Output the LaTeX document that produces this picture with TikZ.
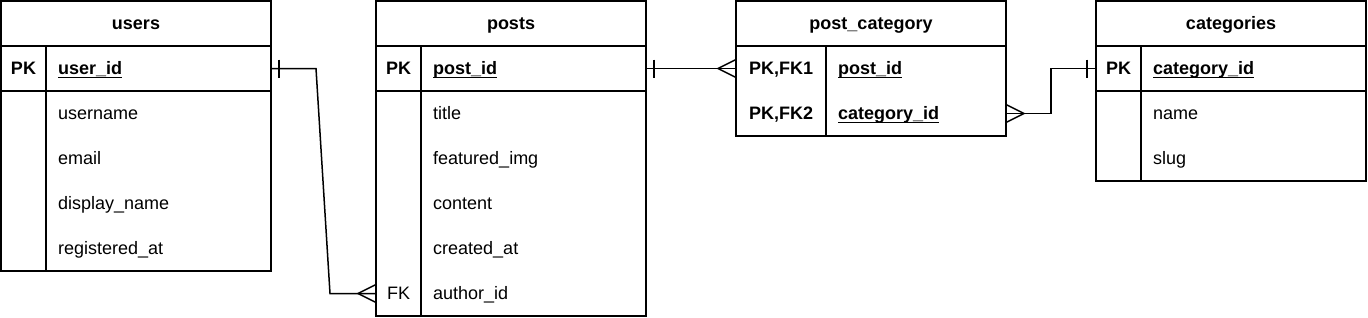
\documentclass[tikz,border=0pt]{standalone}
\usepackage{fontspec}
\setmainfont{Liberation Sans}
\usetikzlibrary{positioning, calc}
\newcommand{\tblfont}{\fontsize{18pt}{21pt}\selectfont}
\newsavebox{\keybox}
\newcommand{\keyname}[1]{\sbox{\keybox}{#1}\usebox{\keybox}\llap{\rule[-3.8pt]{\wd\keybox}{1.6pt}}}
\tikzset{
  tbl/.style={rectangle, draw, line width=1.5pt, minimum width=270pt,
              inner sep=0pt, outer sep=0pt},
  tblhead/.style={tbl, minimum height=45pt, text height=16pt, text depth=4pt,
                  font=\tblfont\bfseries},
  tblpart/.style={tbl, minimum height=#1},
  cell/.style={inner sep=0pt, text height=16pt, text depth=4pt, font=\tblfont},
  keycell/.style={cell, font=\tblfont\bfseries},
  fkcell/.style={cell},
  fieldcell/.style={cell, anchor=west},
  keyfield/.style={fieldcell, font=\tblfont\bfseries},
  rel/.style={line width=1.5pt},
  onebar/.pic={\draw[rel] (0,-9) -- (0,9);},
  crowfoot/.pic={\draw[rel] (0,-9) -- (-18,0) -- (0,9);},
}
\begin{document}
\begin{tikzpicture}[x=1pt, y=-1pt]
  \useasboundingbox (0,0) rectangle (1368,317);

  % users
  \node[tblhead, anchor=north west] (users) at (1,1) {users};
  \node[tblpart=45pt, below=0pt of users] (users-pk) {};
  \node[tblpart=180pt, below=0pt of users-pk] (users-body) {};
  \draw[rel] ([xshift=45pt]users-pk.north west) -- ([xshift=45pt]users-body.south west);
  \node[keycell] (users-k1) at ([xshift=22.5pt]users-pk.west) {PK};
  \node[keyfield] (users-f1) at ([xshift=57pt]users-pk.west) {\keyname{user\_id}};
  \foreach \f [count=\i from 2] in {username, email, display\_name, registered\_at}
    \node[fieldcell] (users-f\i) at ($(users-body.north west)+(57,45*\i-67.5)$) {\f};

  % posts
  \node[tblhead, anchor=north west] (posts) at (376,1) {posts};
  \node[tblpart=45pt, below=0pt of posts] (posts-pk) {};
  \node[tblpart=225pt, below=0pt of posts-pk] (posts-body) {};
  \draw[rel] ([xshift=45pt]posts-pk.north west) -- ([xshift=45pt]posts-body.south west);
  \node[keycell] (posts-k1) at ([xshift=22.5pt]posts-pk.west) {PK};
  \node[keyfield] (posts-f1) at ([xshift=57pt]posts-pk.west) {\keyname{post\_id}};
  \foreach \f [count=\i from 2] in {title, featured\_img, content, created\_at, author\_id}
    \node[fieldcell] (posts-f\i) at ($(posts-body.north west)+(57,45*\i-67.5)$) {\f};
  \node[fkcell] (posts-k6) at ($(posts-body.north west)+(22.5,202.5)$) {FK};

  % post_category
  \node[tblhead, anchor=north west] (pc) at (736,1) {post\_category};
  \node[tblpart=90pt, below=0pt of pc] (pc-pk) {};
  \draw[rel] ([xshift=90pt]pc-pk.north west) -- ([xshift=90pt]pc-pk.south west);
  \node[keycell] (pc-k1) at ($(pc-pk.north west)+(45,22.5)$) {PK,FK1};
  \node[keycell] (pc-k2) at ($(pc-pk.north west)+(45,67.5)$) {PK,FK2};
  \node[keyfield] (pc-f1) at ($(pc-pk.north west)+(102,22.5)$) {\keyname{post\_id}};
  \node[keyfield] (pc-f2) at ($(pc-pk.north west)+(102,67.5)$) {\keyname{category\_id}};

  % categories
  \node[tblhead, anchor=north west] (cats) at (1096,1) {categories};
  \node[tblpart=45pt, below=0pt of cats] (cats-pk) {};
  \node[tblpart=90pt, below=0pt of cats-pk] (cats-body) {};
  \draw[rel] ([xshift=45pt]cats-pk.north west) -- ([xshift=45pt]cats-body.south west);
  \node[keycell] (cats-k1) at ([xshift=22.5pt]cats-pk.west) {PK};
  \node[keyfield] (cats-f1) at ([xshift=57pt]cats-pk.west) {\keyname{category\_id}};
  \foreach \f [count=\i from 2] in {name, slug}
    \node[fieldcell] (cats-f\i) at ($(cats-body.north west)+(57,45*\i-67.5)$) {\f};

  % relations
  \coordinate (posts-fk) at (posts-body.west |- posts-f6);
  \coordinate (pc-in) at (pc-pk.west |- pc-f1);
  \coordinate (pc-out) at (pc-pk.east |- pc-f2);

  \draw[rel] (users-pk.east) -- ++(45,0) -- ([xshift=-46pt]posts-fk) -- (posts-fk);
  \pic at ([xshift=8pt]users-pk.east) {onebar};
  \pic at (posts-fk) {crowfoot};

  \draw[rel] (posts-pk.east) -- (pc-in);
  \pic at ([xshift=8pt]posts-pk.east) {onebar};
  \pic at (pc-in) {crowfoot};

  \draw[rel] (pc-out) -- ++(45,0) |- (cats-pk.west);
  \pic[xscale=-1] at (pc-out) {crowfoot};
  \pic at ([xshift=-9pt]cats-pk.west) {onebar};
\end{tikzpicture}
\end{document}
